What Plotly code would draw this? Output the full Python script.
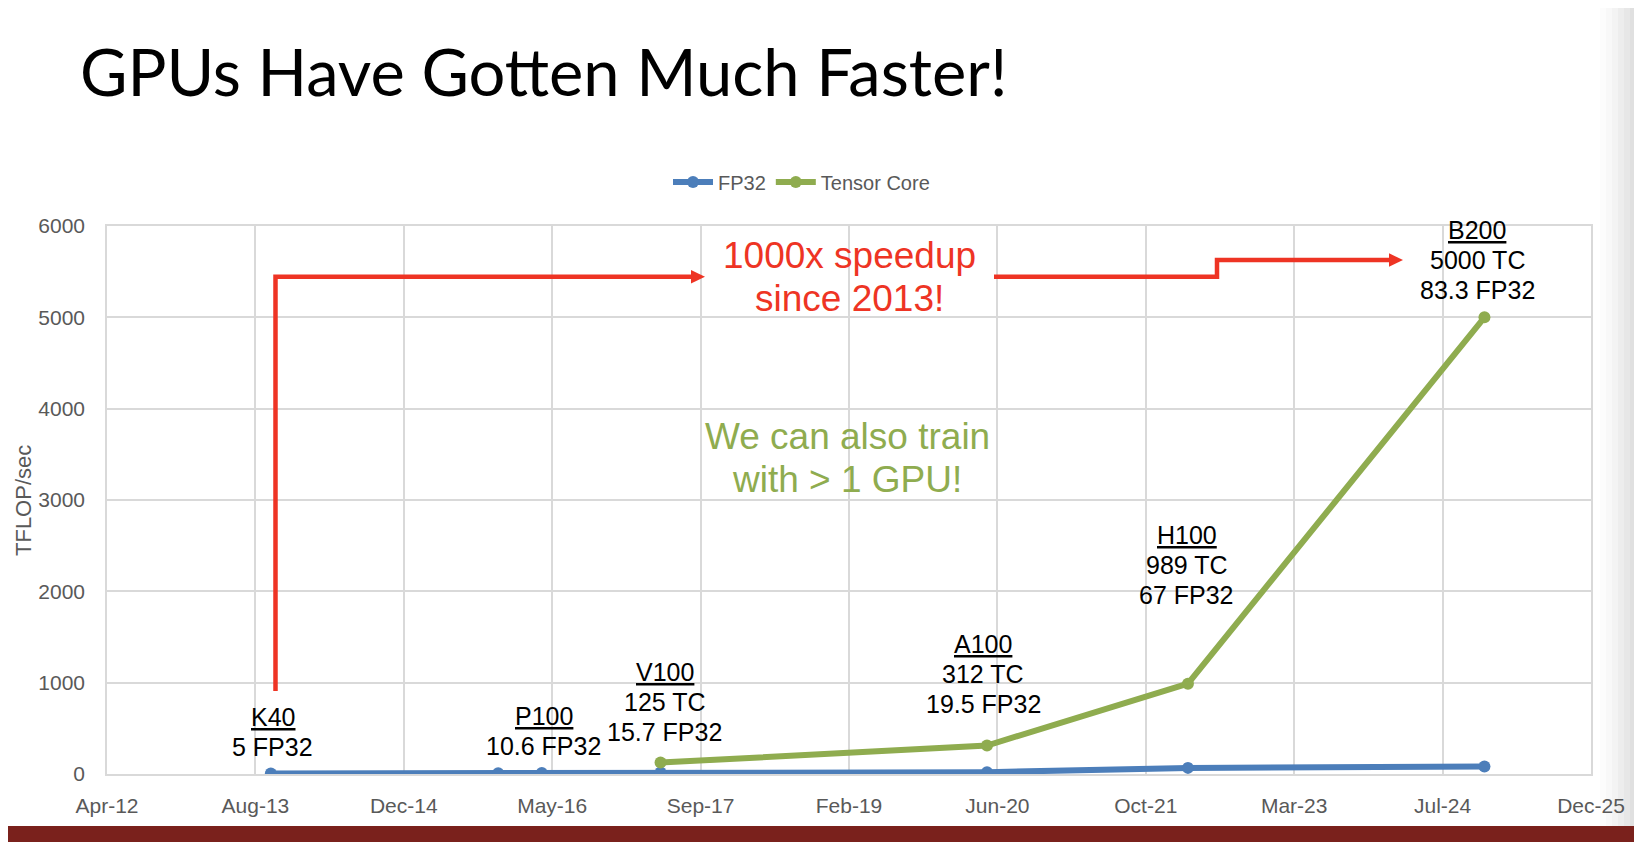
import plotly.graph_objects as go
import pandas as pd

# data
gpu_names = ["K40", "M40", "P100", "V100", "A100", "H100", "B200"]
release_dates = ["2013-10-05", "2015-11-10", "2016-04-05", "2017-05-10",
                 "2020-05-14", "2022-03-22", "2024-12-15"]
fp32_tflops = [5, 7, 10.6, 15.7, 19.5, 67, 83.3]

tc_names = ["V100", "A100", "H100", "B200"]
tc_dates = ["2017-05-10", "2020-05-14", "2022-03-22", "2024-12-15"]
tc_tflops = [125, 312, 989, 5000]

labelled = ["K40", "P100", "V100", "A100", "H100", "B200"]

y_ticks = [0, 1000, 2000, 3000, 4000, 5000, 6000]
x_tick_labels = ["Apr-12", "Aug-13", "Dec-14", "May-16", "Sep-17", "Feb-19",
                 "Jun-20", "Oct-21", "Mar-23", "Jul-24", "Dec-25"]
# excel date axis: min 2012-04-01, major unit 500 days
x_tick_dates = pd.date_range("2012-04-01", periods=len(x_tick_labels), freq="500D")

# screen geometry (the page body adds an 8px margin)
OFF = 8
SW, SH = 1642, 842
W, H = SW - OFF, SH - OFF
L, R, T, B = 107, 1591, 226, 774

BLUE = "#4C7EBA"
GREEN = "#8FAC4F"
RED = "#EE3424"
GREY = "#595959"
GRID = "#D9D9D9"
FONT = "Liberation Sans, Arial, sans-serif"


def paper(x, y):
    return (x - L) / (R - L), (B - y) / (B - T)


def path(points, close=False):
    pts = [paper(x, y) for x, y in points]
    s = "M " + " L ".join(f"{x:.5f},{y:.5f}" for x, y in pts)
    return s + (" Z" if close else "")


fig = go.Figure()
fig.add_scatter(x=release_dates, y=fp32_tflops, name="FP32", mode="lines+markers",
                line=dict(color=BLUE, width=6), marker=dict(size=12, color=BLUE))
fig.add_scatter(x=tc_dates, y=tc_tflops, name="Tensor Core", mode="lines+markers",
                line=dict(color=GREEN, width=6), marker=dict(size=12, color=GREEN))


def text_line(text, x, xref, baseline, size, color, family=FONT, xanchor="center", xshift=0):
    # place one line of text by its baseline (screen px)
    y = paper(0, baseline - 0.3465 * size)[1]
    fig.add_annotation(x=x, xref=xref, y=y, yref="paper", text=text, showarrow=False,
                       xanchor=xanchor, yanchor="middle", xshift=xshift,
                       font=dict(family=family, size=size, color=color))


# gpu labels: baseline of the last line in screen px
label_baseline = {"K40": 756, "P100": 755, "V100": 741, "A100": 713, "H100": 604, "B200": 299}
label_xshift = {"K40": 2, "P100": 2, "V100": 4, "A100": -4, "H100": -1, "B200": -7}
fp32_by = dict(zip(gpu_names, fp32_tflops))
date_by = dict(zip(gpu_names, release_dates))
tc_by = dict(zip(tc_names, tc_tflops))
for name in labelled:
    lines = [f"<u>{name}</u>"]
    if name in tc_by:
        lines.append(f"{tc_by[name]:g} TC")
    lines.append(f"{fp32_by[name]:g} FP32")
    base = label_baseline[name]
    for i, ln in enumerate(reversed(lines)):
        text_line(ln, date_by[name], "x", base - 30 * i, 25, "black", xshift=label_xshift[name])

# big callouts
cx, _ = paper(849, 0)
text_line("1000x speedup", cx, "paper", 268, 37, RED)
text_line("since 2013!", cx, "paper", 311, 37, RED)
cx, _ = paper(847, 0)
text_line("We can also train", cx, "paper", 449, 37, GREEN)
text_line("with > 1 GPU!", cx, "paper", 492, 37, GREEN)

# red arrows
fig.add_shape(type="path", xref="paper", yref="paper",
              path=path([(275.5, 691), (275.5, 276.7), (693, 276.7)]),
              line=dict(color=RED, width=4.5))
fig.add_shape(type="path", xref="paper", yref="paper",
              path=path([(705, 276.7), (691, 270), (691, 283.4)], close=True),
              fillcolor=RED, line=dict(color=RED, width=0))
fig.add_shape(type="path", xref="paper", yref="paper",
              path=path([(994, 276.7), (1217, 276.7), (1217, 260), (1390, 260)]),
              line=dict(color=RED, width=4.5))
fig.add_shape(type="path", xref="paper", yref="paper",
              path=path([(1403, 260), (1389, 253.3), (1389, 266.7)], close=True),
              fillcolor=RED, line=dict(color=RED, width=0))

# slide title
tx, _ = paper(78, 0)
fig.add_annotation(x=tx, y=paper(0, 96 - 0.387 * 65)[1], xref="paper", yref="paper",
                   text="GPUs Have Gotten Much Faster!", showarrow=False,
                   xanchor="left", yanchor="middle",
                   font=dict(family="Lato, sans-serif", size=65, color="black"))

# y axis title
ax_, ay_ = paper(23, 501)
fig.add_annotation(x=ax_, y=ay_, xref="paper", yref="paper", text="TFLOP/sec", textangle=-90,
                   showarrow=False, xanchor="center", yanchor="middle",
                   font=dict(family=FONT, size=22, color=GREY))

# footer bar and right page shadow
x0, y0 = paper(0, 826)
x1, y1 = paper(SW, SH)
fig.add_shape(type="rect", xref="paper", yref="paper", x0=x0, y0=y0, x1=x1, y1=y1,
              fillcolor="#7A211C", line=dict(width=0))
shadow = ["#FCFCFC", "#F8F8F8", "#F3F3F3", "#EDEDED", "#E7E7E7", "#E0E0E0", "#DADADA"]
for i, col in enumerate(shadow):
    sx = 1600 + 6 * i
    a0, b0 = paper(sx, 0)
    a1, b1 = paper(sx + 6, 826)
    fig.add_shape(type="rect", xref="paper", yref="paper", x0=a0, y0=b1, x1=a1, y1=b0,
                  fillcolor=col, line=dict(width=0), layer="below")

lx, ly = paper(668, 182)
fig.update_layout(
    width=W, height=H, autosize=False,
    margin=dict(l=L - OFF, r=W - (R - OFF), t=T - OFF, b=H - (B - OFF), pad=0),
    paper_bgcolor="white", plot_bgcolor="white",
    showlegend=True,
    legend=dict(orientation="h", x=lx, y=ly, xanchor="left", yanchor="middle",
                font=dict(family=FONT, size=20, color=GREY), itemwidth=40,
                bgcolor="rgba(0,0,0,0)"),
    xaxis=dict(type="date", range=[x_tick_dates[0], x_tick_dates[-1]],
               tickmode="array", tickvals=x_tick_dates, ticktext=x_tick_labels,
               showgrid=True, gridcolor=GRID, gridwidth=1.5,
               showline=True, linecolor=GRID, linewidth=1.5, mirror=True,
               ticks="", ticklabelstandoff=12,
               tickfont=dict(family=FONT, size=21, color=GREY)),
    yaxis=dict(range=[0, 6000], tickmode="array", tickvals=y_ticks,
               showgrid=True, gridcolor=GRID, gridwidth=1.5, zeroline=False,
               showline=True, linecolor=GRID, linewidth=1.5, mirror=True,
               ticks="", ticklabelstandoff=16,
               tickfont=dict(family=FONT, size=21, color=GREY)),
)

fig.write_html("out.html")
